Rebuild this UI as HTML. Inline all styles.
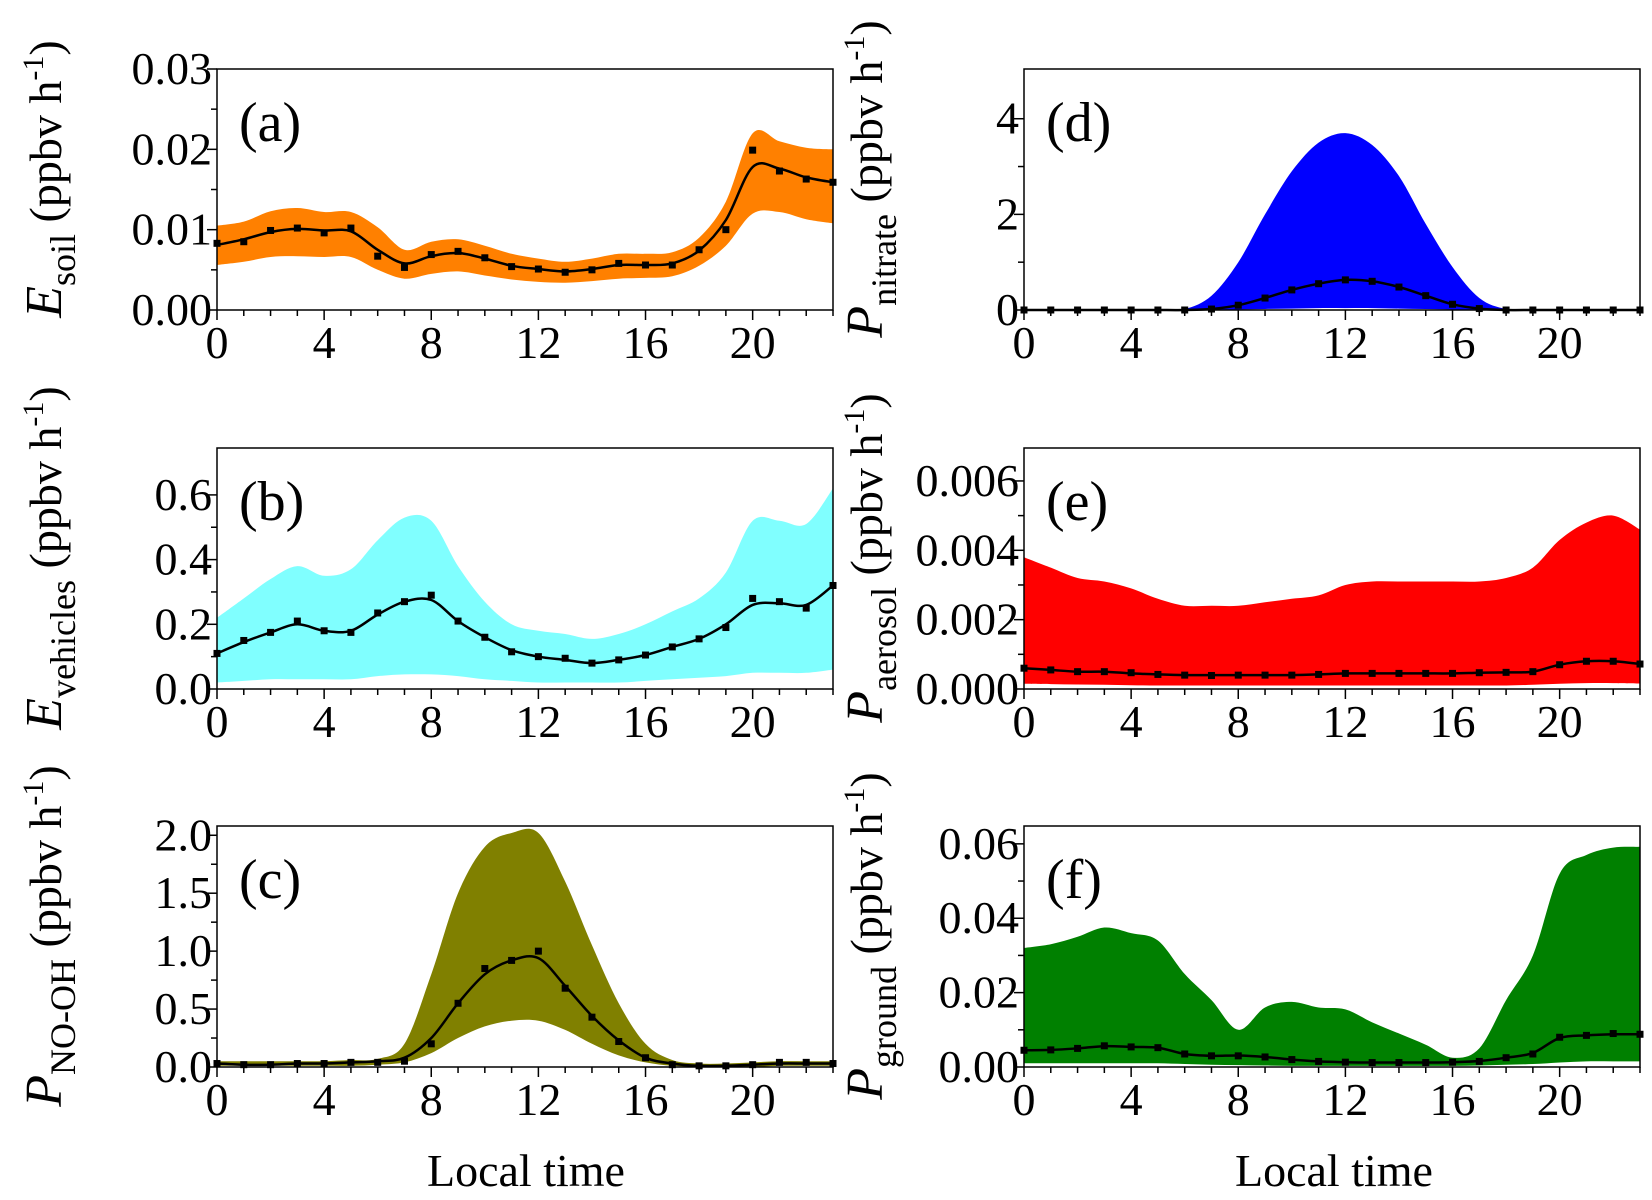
<!DOCTYPE html>
<html><head><meta charset="utf-8"><style>
html,body{margin:0;padding:0;background:#fff;}
svg{display:block;}
svg text{font-family:"Liberation Serif","Times New Roman","DejaVu Serif",serif;}
</style></head><body>
<svg id="chart" width="1652" height="1200" viewBox="0 0 1652 1200" xmlns="http://www.w3.org/2000/svg"></svg>
<script>
const hours = [0,1,2,3,4,5,6,7,8,9,10,11,12,13,14,15,16,17,18,19,20,21,22,23];
const xTicks = [0,4,8,12,16,20];

const aPts = [0.0083,0.0085,0.0099,0.0102,0.0096,0.0102,0.0067,0.0053,0.0069,0.0073,0.0065,0.0054,0.0051,0.0047,0.0050,0.0058,0.0056,0.0056,0.0075,0.0100,0.0199,0.0173,0.0163,0.0159];
const aLine = [0.0081,0.0088,0.0097,0.0101,0.0099,0.0098,0.0075,0.0058,0.0067,0.0071,0.0064,0.0055,0.0051,0.0048,0.0051,0.0056,0.0056,0.0058,0.0074,0.0112,0.0178,0.0176,0.0165,0.0159];
const aUp = [0.0105,0.0110,0.0123,0.0127,0.0122,0.0122,0.0103,0.0075,0.0085,0.0088,0.0080,0.0070,0.0064,0.0060,0.0064,0.0070,0.0070,0.0072,0.0090,0.0135,0.0220,0.0210,0.0202,0.0200];
const aLo = [0.0056,0.0060,0.0066,0.0067,0.0066,0.0066,0.0050,0.0039,0.0045,0.0048,0.0043,0.0038,0.0035,0.0034,0.0036,0.0039,0.0040,0.0042,0.0055,0.0080,0.0120,0.0122,0.0113,0.0108];
const aTicks = ["0.00","0.01","0.02","0.03"];

const bPts = [0.11,0.15,0.175,0.21,0.18,0.175,0.235,0.27,0.29,0.21,0.16,0.115,0.10,0.095,0.08,0.09,0.105,0.13,0.155,0.19,0.28,0.27,0.25,0.32];
const bLine = [0.11,0.145,0.175,0.20,0.18,0.18,0.23,0.27,0.275,0.21,0.16,0.12,0.10,0.09,0.08,0.09,0.105,0.13,0.155,0.20,0.26,0.265,0.26,0.32];
const bUp = [0.22,0.28,0.34,0.38,0.35,0.37,0.46,0.53,0.52,0.38,0.27,0.20,0.18,0.17,0.155,0.17,0.20,0.24,0.28,0.36,0.52,0.52,0.51,0.62];
const bLo = [0.02,0.025,0.03,0.03,0.03,0.03,0.04,0.045,0.045,0.04,0.03,0.025,0.02,0.02,0.02,0.02,0.025,0.03,0.035,0.04,0.05,0.05,0.05,0.06];
const bTicks = ["0.0","0.2","0.4","0.6"];

const cPts = [0.03,0.02,0.02,0.03,0.03,0.04,0.04,0.05,0.2,0.55,0.85,0.92,1.0,0.68,0.43,0.22,0.08,0.02,0.01,0.01,0.02,0.04,0.04,0.03];
const cLine = [0.03,0.02,0.02,0.03,0.03,0.04,0.05,0.08,0.25,0.55,0.8,0.92,0.94,0.7,0.44,0.23,0.08,0.03,0.01,0.01,0.02,0.03,0.03,0.03];
const cUp = [0.05,0.05,0.05,0.05,0.05,0.06,0.07,0.2,0.8,1.5,1.9,2.02,2.02,1.6,1.05,0.55,0.2,0.06,0.03,0.03,0.04,0.05,0.05,0.05];
const cLo = [0.01,0.01,0.01,0.01,0.01,0.01,0.02,0.04,0.12,0.25,0.35,0.4,0.4,0.32,0.2,0.1,0.04,0.01,0,0,0,0.01,0.01,0.01];
const cTicks = ["0.0","0.5","1.0","1.5","2.0"];

const dPts = [0,0,0,0,0,0,0,0.02,0.1,0.25,0.42,0.55,0.63,0.6,0.48,0.3,0.12,0.03,0,0,0,0,0,0];
const dLine = [0,0,0,0,0,0,0,0.02,0.1,0.25,0.42,0.55,0.63,0.6,0.48,0.3,0.12,0.03,0,0,0,0,0,0];
const dUp = [0,0,0,0,0,0,0.02,0.3,1.0,2.0,2.9,3.5,3.7,3.45,2.8,1.8,0.9,0.25,0.02,0,0,0,0,0];
const dLo = [0,0,0,0,0,0,0,0,0.01,0.02,0.03,0.04,0.04,0.04,0.03,0.02,0.01,0,0,0,0,0,0,0];
const dTicks = ["0","2","4"];

const ePts = [0.0006,0.00055,0.0005,0.0005,0.00047,0.00042,0.0004,0.00039,0.0004,0.0004,0.0004,0.00042,0.00045,0.00045,0.00045,0.00045,0.00045,0.00047,0.00048,0.0005,0.0007,0.0008,0.0008,0.00072];
const eLine = [0.0006,0.00055,0.0005,0.0005,0.00045,0.00042,0.0004,0.0004,0.0004,0.0004,0.0004,0.00042,0.00045,0.00045,0.00045,0.00045,0.00045,0.00047,0.00048,0.0005,0.0007,0.0008,0.0008,0.00072];
const eUp = [0.0038,0.0035,0.0032,0.0031,0.0029,0.0026,0.0024,0.0024,0.0024,0.0025,0.0026,0.0027,0.003,0.0031,0.0031,0.0031,0.0031,0.0031,0.0032,0.0035,0.0043,0.0048,0.005,0.0046];
const eLo = [0.00015,0.00014,0.00013,0.00012,0.00011,0.0001,0.0001,0.0001,0.0001,0.0001,0.0001,0.0001,0.0001,0.0001,0.0001,0.0001,0.0001,0.0001,0.0001,0.00012,0.00015,0.00017,0.00017,0.00016];
const eTicks = ["0.000","0.002","0.004","0.006"];

const fPts = [0.0045,0.0046,0.005,0.0057,0.0054,0.0052,0.0035,0.003,0.003,0.0027,0.002,0.0015,0.0013,0.0012,0.0012,0.0012,0.0013,0.0015,0.0025,0.0035,0.008,0.0085,0.009,0.0088];
const fLine = [0.0045,0.0046,0.005,0.0056,0.0054,0.0052,0.0035,0.003,0.0031,0.0027,0.002,0.0015,0.0013,0.0012,0.0012,0.0012,0.0013,0.0016,0.0025,0.0038,0.0078,0.0085,0.0088,0.0088];
const fUp = [0.032,0.033,0.035,0.0375,0.036,0.034,0.025,0.018,0.010,0.016,0.0175,0.016,0.0155,0.012,0.009,0.006,0.0025,0.005,0.018,0.03,0.052,0.057,0.059,0.0592];
const fLo = [0.001,0.001,0.001,0.001,0.001,0.001,0.0008,0.0006,0.0005,0.0004,0.0003,0.0003,0.0003,0.0003,0.0003,0.0003,0.0003,0.0004,0.0006,0.0008,0.0012,0.0015,0.0015,0.0015];
const fTicks = ["0.00","0.02","0.04","0.06"];

const NS = "http://www.w3.org/2000/svg";
const FONT = '"Liberation Serif","Times New Roman",serif';
const svg = document.getElementById("chart");
function mk(tag, attrs, parent){ const e=document.createElementNS(NS,tag); for(const k in attrs) e.setAttribute(k,attrs[k]); if(tag==="text") e.setAttribute("font-family",FONT); (parent||svg).appendChild(e); return e; }

function smoothPath(pts){
  let d = "M"+pts[0][0].toFixed(1)+","+pts[0][1].toFixed(1);
  for(let i=0;i<pts.length-1;i++){
    const p0=pts[Math.max(0,i-1)], p1=pts[i], p2=pts[i+1], p3=pts[Math.min(pts.length-1,i+2)];
    const c1x=p1[0]+(p2[0]-p0[0])/6, c1y=p1[1]+(p2[1]-p0[1])/6;
    const c2x=p2[0]-(p3[0]-p1[0])/6, c2y=p2[1]-(p3[1]-p1[1])/6;
    d += " C"+c1x.toFixed(1)+","+c1y.toFixed(1)+" "+c2x.toFixed(1)+","+c2y.toFixed(1)+" "+p2[0].toFixed(1)+","+p2[1].toFixed(1);
  }
  return d;
}
function revSmooth(pts){ const r=pts.slice().reverse(); return smoothPath(r).replace(/^M/," L"); }

function panel(o){
  const g = mk("g",{});
  
  
  const L=o.x, R=o.x+616, T=o.y, B=o.y+241;
  const xs = h => L + h/23*(R-L);
  const ys = v => B - v/o.ymax*(B-T);
  const up = hours.map((h,i)=>[xs(h),ys(o.up[i])]);
  const lo = hours.map((h,i)=>[xs(h),ys(o.lo[i])]);
  const band = mk("path",{d:smoothPath(up)+revSmooth(lo)+" Z",fill:o.color},g);
  
  
  const line = mk("path",{d:smoothPath(hours.map((h,i)=>[xs(h),ys(o.line[i])])),fill:"none",stroke:"#000","stroke-width":2.5},g);
  
  
  hours.forEach((h,i)=>{
    const m = mk("rect",{x:xs(h)-3.5,y:ys(o.pts[i])-3.5,width:7,height:7,fill:"#000"},g);
    
    
  });
  const frame = mk("rect",{x:L,y:T,width:R-L,height:B-T,fill:"none",stroke:"#000","stroke-width":1.5},g);
  
  
  for(let h=0;h<=23;h++){
    const maj = h%4===0;
    mk("line",{x1:xs(h),x2:xs(h),y1:B,y2:B+(maj?10:6),stroke:"#000","stroke-width":1.5},g);
  }
  xTicks.forEach(t=>{
    const tx = mk("text",{x:xs(t),y:B+48,"text-anchor":"middle","font-size":46},g);
    tx.textContent = t;
    
    
  });
  o.ticks.forEach((t,i)=>{
    const v = parseFloat(t), y = ys(v);
    mk("line",{x1:L-10,x2:L,y1:y,y2:y,stroke:"#000","stroke-width":1.5},g);
    if(i<o.ticks.length-1){ const v2=parseFloat(o.ticks[i+1]); const ym=ys((v+v2)/2); mk("line",{x1:L-6,x2:L,y1:ym,y2:ym,stroke:"#000","stroke-width":1.5},g); }
    const ty = mk("text",{x:L-5,y:y+15,"text-anchor":"end","font-size":46},g);
    ty.textContent = t;
    
    
  });
  const lab = mk("text",{x:L+22,y:T+72,"font-size":56},g);
  lab.textContent = "("+o.id+")";
  
  
  const yt = mk("text",{transform:"translate("+(o.x-o.tOff)+","+(T+110)+") rotate(-90)","text-anchor":"middle","font-size":46},g);
  
  
  const s1 = mk("tspan",{"font-style":"italic","font-size":52},yt); s1.textContent=o.sym;
  const s2 = mk("tspan",{dy:14,"font-size":36},yt); s2.textContent=o.sub;
  const s3 = mk("tspan",{dy:-14},yt); s3.textContent=" (ppbv h";
  const s4 = mk("tspan",{dy:-18,"font-size":30},yt); s4.textContent="-1";
  const s5 = mk("tspan",{dy:18},yt); s5.textContent=")";
}

panel({id:"a",x:217,y:69,tOff:156,ymax:0.03,color:"#ff8000",pts:aPts,line:aLine,up:aUp,lo:aLo,ticks:aTicks,sym:"E",sub:"soil"});
panel({id:"b",x:217,y:448,tOff:156,ymax:0.745,color:"#80ffff",pts:bPts,line:bLine,up:bUp,lo:bLo,ticks:bTicks,sym:"E",sub:"vehicles"});
panel({id:"c",x:217,y:826,tOff:156,ymax:2.08,color:"#808000",pts:cPts,line:cLine,up:cUp,lo:cLo,ticks:cTicks,sym:"P",sub:"NO-OH"});
panel({id:"d",x:1024,y:69,tOff:142,ymax:5.04,color:"#0000ff",pts:dPts,line:dLine,up:dUp,lo:dLo,ticks:dTicks,sym:"P",sub:"nitrate"});
panel({id:"e",x:1024,y:448,tOff:142,ymax:0.00695,color:"#ff0000",pts:ePts,line:eLine,up:eUp,lo:eLo,ticks:eTicks,sym:"P",sub:"aerosol"});
panel({id:"f",x:1024,y:826,tOff:142,ymax:0.0648,color:"#008000",pts:fPts,line:fLine,up:fUp,lo:fLo,ticks:fTicks,sym:"P",sub:"ground"});

[[526,"x-axis-title-left"],[1334,"x-axis-title-right"]].forEach(a=>{
  const t = mk("text",{x:a[0],y:1186,"text-anchor":"middle","font-size":46});
  t.textContent = "Local time";
  
  
});
</script>
</body></html>
